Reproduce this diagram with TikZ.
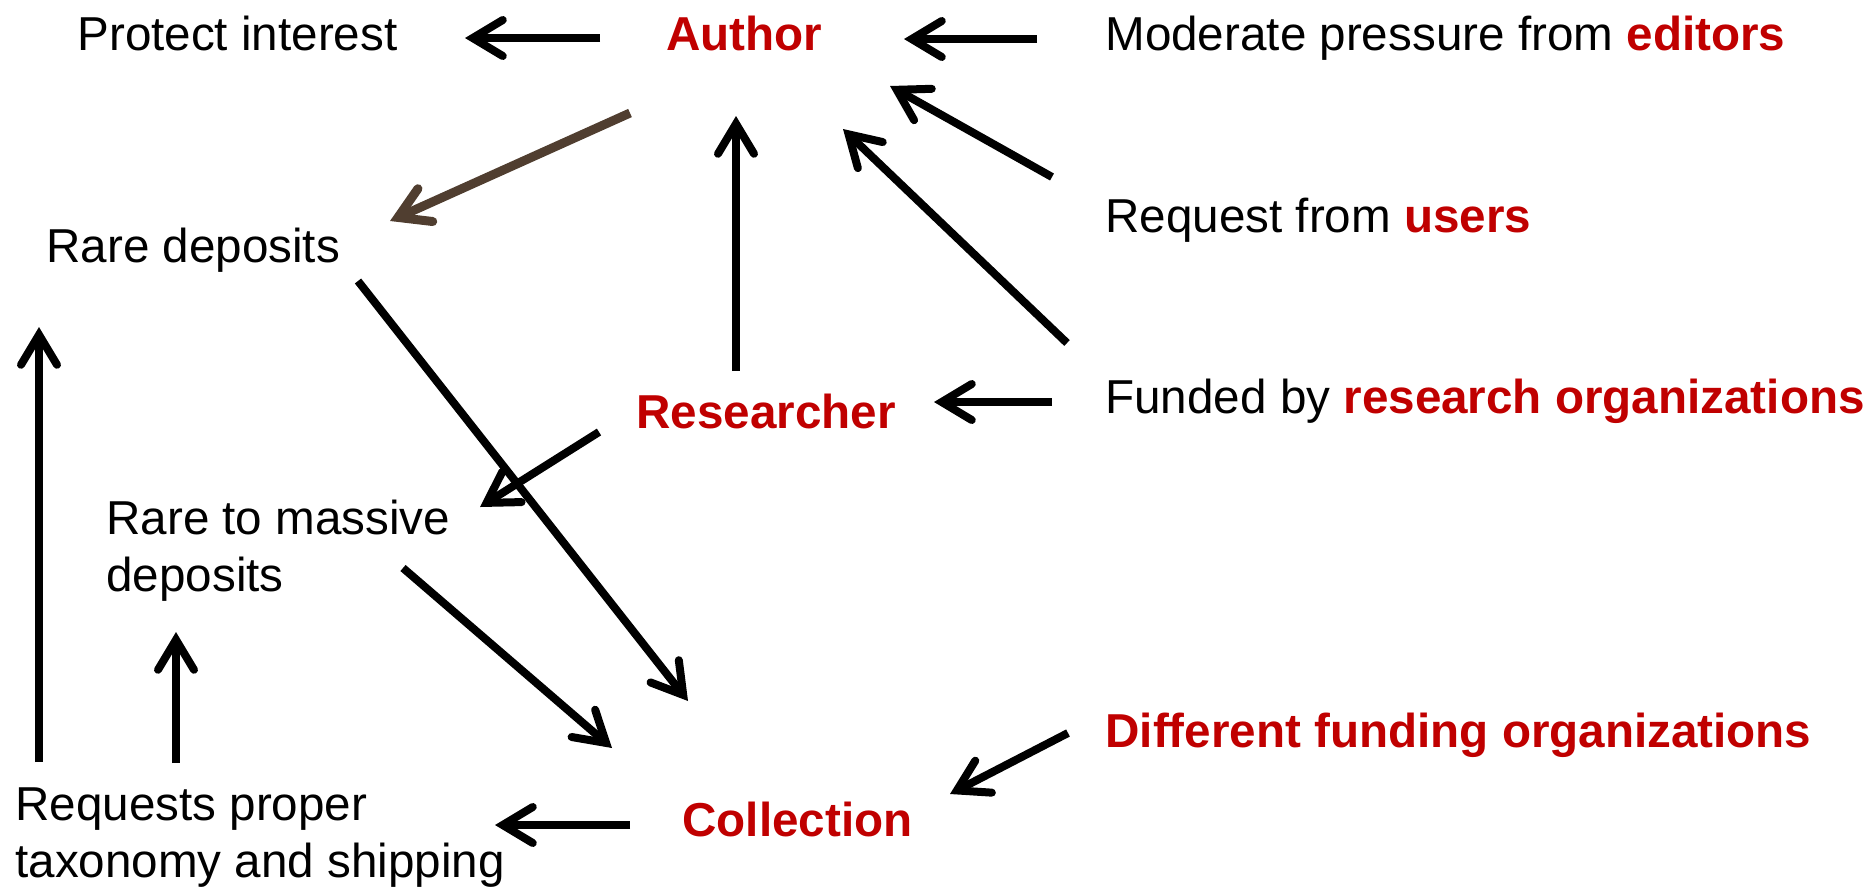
\documentclass[tikz,border=0pt]{standalone}
\usepackage{fontspec}
\setmainfont{Liberation Sans}
\usetikzlibrary{arrows.meta}
\definecolor{keyred}{RGB}{192,0,0}
\definecolor{barkbrown}{RGB}{80,62,48}
\newcommand{\hl}[1]{\textbf{\textcolor{keyred}{#1}}}
\begin{document}
\begin{tikzpicture}[x=0.5pt,y=-0.5pt,
  lbl/.style={anchor=base west,inner sep=0pt,align=left,
    font=\fontsize{23.8}{28.5}\selectfont},
  key/.style={lbl,font=\fontsize{23.8}{28.5}\selectfont\bfseries,text=keyred},
  flow/.style={line width=4pt,draw=black,
    -{Straight Barb[length=15pt,width=18pt,line cap=round]}}]
\useasboundingbox (0,0) rectangle (1875,890);

% labels (two-line labels are placed by the baseline of their last line)
\node[lbl] (protect)  at (77,50)   {Protect interest};
\node[key] (author)   at (666,50)  {Author};
\node[lbl] (moderate) at (1105,50) {Moderate pressure from \hl{editors}};
\node[lbl] (users)    at (1105,232) {Request from \hl{users}};
\node[lbl] (funded)   at (1105,413) {Funded by \hl{research organizations}};
\node[lbl] (rare)     at (46,262)  {Rare deposits};
\node[key] (researcher) at (636,428) {Researcher};
\node[lbl] (massive)  at (106,591) {Rare to massive\\deposits};
\node[lbl] (requests) at (15,877)  {Requests proper\\taxonomy and shipping};
\node[key] (collection) at (682,836) {Collection};
\node[key] (funding)  at (1105,747) {Different funding organizations};

% connectors
\draw[flow] ([shift={(-66,-12)}]author.base west) -- ([shift={(388,-12)}]protect.base west);
\draw[flow] ([shift={(-68,-11)}]moderate.base west) -- ([shift={(238,-11)}]author.base west);
\draw[flow] ([shift={(-53,-55)}]users.base west) -- ([shift={(224,36)}]author.base west);
\draw[flow] ([shift={(-38,-70)}]funded.base west) -- ([shift={(177,79)}]author.base west);
\draw[flow] ([shift={(-53,-11)}]funded.base west) -- ([shift={(298,-26)}]researcher.base west);
\draw[flow] ([shift={(100,-57)}]researcher.base west) -- ([shift={(70,66)}]author.base west);
\draw[flow,draw=barkbrown,line width=4.5pt] ([shift={(-36,63)}]author.base west) -- ([shift={(344,-41)}]rare.base west);
\draw[flow] ([shift={(312,19)}]rare.base west) -- ([shift={(6,-135)}]collection.base west);
\draw[flow] ([shift={(-37,4)}]researcher.base west) -- ([shift={(374,-84)}]massive.base west);
\draw[flow] ([shift={(297,-23)}]massive.base west) -- ([shift={(-70,-88)}]collection.base west);
\draw[flow] ([shift={(24,-115)}]requests.base west) -- ([shift={(-7,65)}]rare.base west);
\draw[flow] ([shift={(161,-114)}]requests.base west) -- ([shift={(70,41)}]massive.base west);
\draw[flow] ([shift={(-52,-11)}]collection.base west) -- ([shift={(480,-52)}]requests.base west);
\draw[flow] ([shift={(-37,-14)}]funding.base west) -- ([shift={(268,-42)}]collection.base west);
\end{tikzpicture}
\end{document}
